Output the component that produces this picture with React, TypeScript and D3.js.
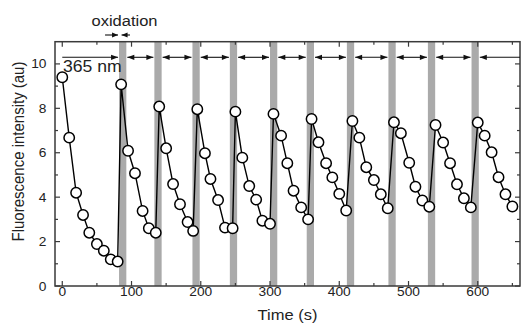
import React from "react";
import * as d3 from "d3";

// ---- data ----
const times: number[] = [
  0, 10, 20, 30, 39, 50, 60, 70, 80,
  85, 95, 105, 116, 125, 135,
  140, 150, 160, 170, 181, 189,
  195, 206, 214, 225, 235, 246,
  250, 260, 270, 280, 289, 300,
  305, 316, 325, 334, 345, 355,
  360, 370, 381, 390, 400, 410,
  419, 429, 439, 450, 460, 470,
  479, 489, 501, 510, 520, 530,
  539, 550, 560, 570, 580, 590,
  600, 610, 620, 630, 640, 650,
];
const intensity: number[] = [
  9.4, 6.68, 4.2, 3.2, 2.4, 1.89, 1.59, 1.2, 1.1,
  9.08, 6.09, 5.08, 3.38, 2.6, 2.4,
  8.08, 6.2, 4.59, 3.68, 2.88, 2.48,
  7.96, 5.98, 4.82, 3.87, 2.63, 2.6,
  7.85, 5.78, 4.5, 3.89, 2.94, 2.8,
  7.75, 6.77, 5.53, 4.29, 3.54, 3.0,
  7.52, 6.47, 5.53, 4.89, 4.15, 3.4,
  7.43, 6.68, 5.35, 4.77, 4.13, 3.5,
  7.37, 6.88, 5.55, 4.47, 3.85, 3.57,
  7.25, 6.46, 5.53, 4.58, 3.95, 3.54,
  7.36, 6.77, 6.02, 4.9, 4.13, 3.58,
];
const oxStart: number[] = [82, 133, 188, 242, 300, 353, 411, 471, 528, 591];
const oxWidth = 10.5;
const xMajor: number[] = [0, 100, 200, 300, 400, 500, 600];
const xMinor: number[] = [50, 150, 250, 350, 450, 550, 650];
const yMajor: number[] = [0, 2, 4, 6, 8, 10];
const yMinor: number[] = [1, 3, 5, 7, 9];

const W = 521;
const H = 332;
const L = 55, R = 520, T = 41.7, B = 286;
const FONT = "'Liberation Sans', Arial, Helvetica, sans-serif";
const SX = 1.1; // horizontal stretch of text
const AXC = "#3a3a3a";

function Txt(props: { x: number; y: number; size: number; anchor?: string; children: React.ReactNode }) {
  const { x, y, size, anchor = "start", children } = props;
  return (
    <text
      transform={`translate(${x},${y}) scale(${SX},1)`}
      fontSize={size}
      fontFamily={FONT}
      textAnchor={anchor}
      fill="#222"
    >
      {children}
    </text>
  );
}

function arrowHead(x: number, y: number, dir: number, len = 7, hw = 2.6) {
  // dir: +1 pointing right, -1 pointing left; tip at x
  return `M${x},${y} L${x - dir * len},${y - hw} L${x - dir * len},${y + hw} Z`;
}

export default function App() {
  const xs = d3.scaleLinear().domain([-10.5, 661]).range([L, R]);
  const ys = d3.scaleLinear().domain([0, 11]).range([B, T]);
  const pts = times.map((t, i) => [t, intensity[i]] as [number, number]);
  const line = d3.line<[number, number]>().x((d) => xs(d[0])).y((d) => ys(d[1]));

  const arrowY = 57.3;
  const segs: { x1: number; x2: number; left: boolean; right: boolean }[] = [];
  segs.push({ x1: xs(0), x2: xs(oxStart[0]) - 1, left: false, right: true });
  for (let i = 0; i < oxStart.length - 1; i++) {
    segs.push({ x1: xs(oxStart[i] + oxWidth) + 1, x2: xs(oxStart[i + 1]) - 1, left: true, right: true });
  }
  segs.push({ x1: xs(oxStart[oxStart.length - 1] + oxWidth) + 1, x2: R, left: true, right: false });

  const hb = xs(oxStart[0]);
  const headY = 35;

  return (
    <svg
      width={W}
      height={H}
      style={{ position: "absolute", left: 0, top: 0, background: "#fff" }}
    >
      {/* oxidation bars */}
      {oxStart.map((s, i) => (
        <rect key={i} x={xs(s)} y={T} width={xs(s + oxWidth) - xs(s)} height={B - T} fill="#aaaaaa" />
      ))}

      {/* frame */}
      <rect x={L} y={T} width={R - L} height={B - T} fill="none" stroke={AXC} strokeWidth={1.5} />

      {/* x ticks */}
      {xMajor.map((v) => (
        <g key={"xm" + v}>
          <line x1={xs(v)} x2={xs(v)} y1={B} y2={B - 5} stroke={AXC} strokeWidth={1.2} />
          <line x1={xs(v)} x2={xs(v)} y1={T} y2={T + 5} stroke={AXC} strokeWidth={1.2} />
          <Txt x={xs(v)} y={296} size={12.5} anchor="middle">{v}</Txt>
        </g>
      ))}
      {xMinor.map((v) => (
        <g key={"xn" + v}>
          <line x1={xs(v)} x2={xs(v)} y1={B} y2={B - 3} stroke={AXC} strokeWidth={1.2} />
          <line x1={xs(v)} x2={xs(v)} y1={T} y2={T + 3} stroke={AXC} strokeWidth={1.2} />
        </g>
      ))}
      {/* y ticks */}
      {yMajor.map((v) => (
        <g key={"ym" + v}>
          <line x1={L} x2={L + 5} y1={ys(v)} y2={ys(v)} stroke={AXC} strokeWidth={1.2} />
          <line x1={R} x2={R - 5} y1={ys(v)} y2={ys(v)} stroke={AXC} strokeWidth={1.2} />
          <Txt x={46.5} y={ys(v) + 4.5} size={12.5} anchor="end">{v}</Txt>
        </g>
      ))}
      {yMinor.map((v) => (
        <g key={"yn" + v}>
          <line x1={L} x2={L + 3} y1={ys(v)} y2={ys(v)} stroke={AXC} strokeWidth={1.2} />
          <line x1={R} x2={R - 3} y1={ys(v)} y2={ys(v)} stroke={AXC} strokeWidth={1.2} />
        </g>
      ))}

      {/* 365 nm arrows */}
      {segs.map((s, i) => (
        <g key={"a" + i}>
          <line x1={s.x1} x2={s.x2} y1={arrowY} y2={arrowY} stroke="#111" strokeWidth={1.1} />
          {s.left && <path d={arrowHead(s.x1, arrowY, -1)} fill="#111" />}
          {s.right && <path d={arrowHead(s.x2, arrowY, 1)} fill="#111" />}
        </g>
      ))}
      <Txt x={63} y={72} size={16}>365 nm</Txt>

      {/* oxidation header arrows */}
      <line x1={hb - 14} x2={hb - 1} y1={headY} y2={headY} stroke="#111" strokeWidth={1.1} />
      <path d={arrowHead(hb - 1, headY, 1, 6, 2.4)} fill="#111" />
      <line x1={hb + 2.5} x2={hb + 11} y1={headY} y2={headY} stroke="#111" strokeWidth={1.1} />
      <path d={arrowHead(hb + 2.5, headY, -1, 6, 2.4)} fill="#111" />
      <Txt x={124.5} y={26} size={15} anchor="middle">oxidation</Txt>

      {/* data line and markers */}
      <path d={line(pts) || ""} fill="none" stroke="#000" strokeWidth={1.4} />
      {pts.map((p, i) => (
        <circle key={"c" + i} cx={xs(p[0])} cy={ys(p[1])} r={5.2} fill="#fff" stroke="#000" strokeWidth={1.5} />
      ))}

      {/* axis titles */}
      <Txt x={(L + R) / 2} y={320} size={15} anchor="middle">Time (s)</Txt>
      <text
        transform={`translate(24,151.5) scale(${SX},1) rotate(-90)`}
        fontSize={15}
        fontFamily={FONT}
        textAnchor="middle"
        fill="#222"
      >
        Fluorescence intensity (au)
      </text>
    </svg>
  );
}
